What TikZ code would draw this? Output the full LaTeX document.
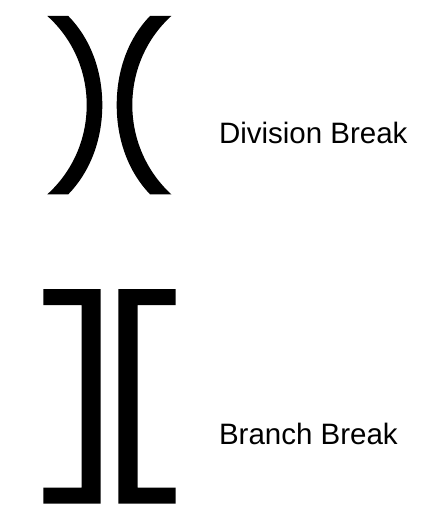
\documentclass[tikz,border=0pt]{standalone}
\usepackage{fontspec}
\setmainfont{Liberation Sans}
\tikzset{
  glyph/.style={fill=black,draw=none},
  lbl/.style={anchor=base west,inner sep=0pt,outer sep=0pt,font=\fontsize{29.5}{34}\selectfont}
}
\begin{document}
\begin{tikzpicture}[x=1pt,y=-1pt]
\useasboundingbox (0,0) rectangle (425,510);
\fill[glyph] (47.3,16) -- (68.3,16) .. controls (90,38) and (102.3,70) .. (102.3,105)
  .. controls (102.3,140) and (90,172) .. (68.3,194.3) -- (47.3,194.3)
  .. controls (72,172) and (86.7,140) .. (86.7,105)
  .. controls (86.7,70) and (72,38) .. (47.3,16) -- cycle;
\fill[glyph] (171.3,16) -- (150,16) .. controls (128.5,38) and (116.7,70) .. (116.7,105)
  .. controls (116.7,140) and (128.5,172) .. (150,194.3) -- (171.3,194.3)
  .. controls (147,172) and (132.3,140) .. (132.3,105)
  .. controls (132.3,70) and (147,38) .. (171.3,16) -- cycle;
\fill[glyph] (43.3,289) -- (100.7,289) -- (100.7,503.7) -- (43.3,503.7) -- (43.3,487.7) -- (81.7,487.7) -- (81.7,305) -- (43.3,305) -- cycle;
\fill[glyph] (175.7,289) -- (118.3,289) -- (118.3,503.7) -- (175.7,503.7) -- (175.7,487.7) -- (137.7,487.7) -- (137.7,305) -- (175.7,305) -- cycle;
\node[lbl] (division) at (219,144) {Division Break};
\node[lbl] (branch) at (219,444.3) {Branch Break};
\end{tikzpicture}
\end{document}
